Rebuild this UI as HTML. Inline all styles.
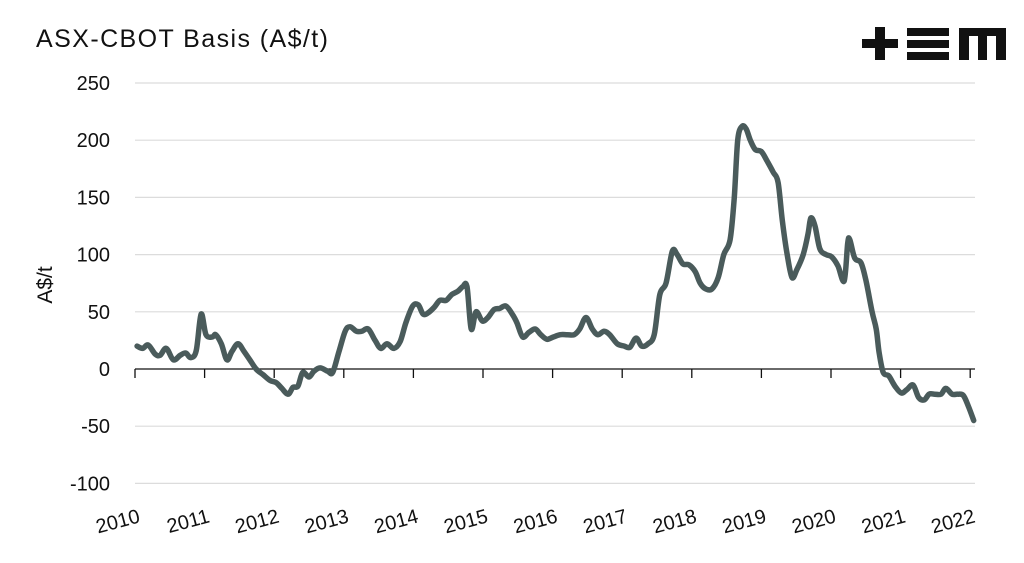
<!DOCTYPE html>
<html><head><meta charset="utf-8"><style>
body{margin:0;background:#fff;}
svg{display:block;font-family:"Liberation Sans",sans-serif;}
</style></head><body>
<svg id="chart" width="1024" height="563" viewBox="0 0 1024 563">
<text x="36" y="47" font-size="25" fill="#111" textLength="292" lengthAdjust="spacing">ASX-CBOT Basis (A$/t)</text>
<g fill="#111">
<rect x="862" y="39" width="36" height="9"/><rect x="875" y="27" width="10" height="33"/>
<rect x="907" y="28" width="42" height="8"/><rect x="907" y="40" width="42" height="8"/><rect x="907" y="52" width="42" height="8"/>
<path d="M959 28 H1006 V60 H996 V36 H987 V60 H978 V36 H969 V60 H959 Z"/>
</g>
<text transform="translate(52,285) rotate(-90)" text-anchor="middle" font-size="21" fill="#111">A$/t</text>
<g id="grid"></g><g id="yticks"></g><g id="xaxis"></g><g id="series"></g>
</svg>
<script>
const yTickValues=[250,200,150,100,50,0,-50,-100];
const xTickYears=[2010,2011,2012,2013,2014,2015,2016,2017,2018,2019,2020,2021,2022];
const dates=[2010.03,2010.11,2010.19,2010.29,2010.36,2010.45,2010.55,2010.65,2010.73,2010.80,2010.88,2010.95,2011.02,2011.11,2011.16,2011.24,2011.32,2011.39,2011.48,2011.57,2011.65,2011.74,2011.84,2011.94,2012.03,2012.11,2012.20,2012.27,2012.34,2012.41,2012.50,2012.57,2012.66,2012.77,2012.84,2012.93,2013.02,2013.09,2013.18,2013.26,2013.35,2013.45,2013.53,2013.62,2013.72,2013.81,2013.89,2013.99,2014.07,2014.14,2014.21,2014.30,2014.38,2014.47,2014.55,2014.64,2014.71,2014.77,2014.83,2014.90,2014.99,2015.07,2015.16,2015.24,2015.33,2015.42,2015.49,2015.57,2015.66,2015.75,2015.83,2015.92,2016.01,2016.11,2016.21,2016.31,2016.39,2016.48,2016.57,2016.65,2016.74,2016.82,2016.93,2017.03,2017.11,2017.20,2017.28,2017.37,2017.46,2017.54,2017.63,2017.72,2017.79,2017.87,2017.96,2018.05,2018.12,2018.20,2018.29,2018.38,2018.46,2018.55,2018.61,2018.66,2018.72,2018.78,2018.84,2018.91,2019.00,2019.08,2019.17,2019.24,2019.30,2019.37,2019.44,2019.51,2019.60,2019.67,2019.71,2019.77,2019.84,2019.93,2020.01,2020.10,2020.19,2020.24,2020.27,2020.34,2020.43,2020.50,2020.59,2020.65,2020.69,2020.75,2020.83,2020.92,2021.01,2021.09,2021.18,2021.26,2021.34,2021.41,2021.49,2021.58,2021.65,2021.74,2021.82,2021.90,2021.97,2022.05];
const basis=[20,18,21,13,12,18,8,12,14,10,16,48,30,28,30,22,8,15,22,15,8,0,-5,-10,-12,-17,-22,-16,-15,-3,-7,-2,1,-2,-3,15,33,37,33,33,35,25,18,22,18,24,40,55,56,48,49,54,60,60,65,68,72,72,35,50,42,45,52,53,55,48,40,28,32,35,30,26,28,30,30,30,35,45,35,30,33,30,22,20,19,27,20,22,30,65,75,103,100,92,91,85,75,70,70,80,100,113,150,200,212,210,200,192,190,182,172,163,130,100,80,87,100,118,132,125,105,100,98,90,77,110,113,97,93,78,50,35,15,-3,-6,-15,-21,-18,-14,-25,-27,-22,-22,-22,-17,-22,-22,-23,-32,-45];
const NS='http://www.w3.org/2000/svg';
const X=y=>135+(y-2010)*69.6;
const Y=v=>369-v*1.144;
function mk(t,a,p){const e=document.createElementNS(NS,t);for(const k in a)e.setAttribute(k,a[k]);p.appendChild(e);return e;}
const grid=document.getElementById('grid'),yt=document.getElementById('yticks'),xa=document.getElementById('xaxis'),se=document.getElementById('series');
yTickValues.forEach(v=>{
 if(v!==0){const g=mk('line',{x1:135,x2:975,y1:Y(v),y2:Y(v),stroke:'#dcdcdc','stroke-width':1.2},grid);
 
 }
 const t=mk('text',{x:110,y:Y(v)+7,'text-anchor':'end','font-size':20,fill:'#111'},yt);t.textContent=v;
 
 
});
const ax=mk('line',{x1:135,x2:975,y1:Y(0),y2:Y(0),stroke:'#111','stroke-width':1.3},xa);


xTickYears.forEach(yr=>{
 const tk=mk('line',{x1:X(yr),x2:X(yr),y1:Y(0),y2:Y(0)+9,stroke:'#111','stroke-width':1.3},xa);
 
 
 const t=mk('text',{transform:`translate(${X(yr)+6},${522}) rotate(-15)`,'text-anchor':'end','font-size':20,fill:'#111'},xa);t.textContent=yr;
 
 
});
const pts=dates.map((y,i)=>[X(y),Y(basis[i])]);
let d='M'+pts[0][0].toFixed(1)+' '+pts[0][1].toFixed(1);
for(let i=0;i<pts.length-1;i++){
 const p0=pts[Math.max(0,i-1)],p1=pts[i],p2=pts[i+1],p3=pts[Math.min(pts.length-1,i+2)];
 const c1=[p1[0]+(p2[0]-p0[0])/6,p1[1]+(p2[1]-p0[1])/6],c2=[p2[0]-(p3[0]-p1[0])/6,p2[1]-(p3[1]-p1[1])/6];
 d+=` C${c1[0].toFixed(1)} ${c1[1].toFixed(1)} ${c2[0].toFixed(1)} ${c2[1].toFixed(1)} ${p2[0].toFixed(1)} ${p2[1].toFixed(1)}`;
}
const p=mk('path',{d:d,fill:'none',stroke:'#4a5b5b','stroke-width':5.5,'stroke-linejoin':'round','stroke-linecap':'round'},se);


</script>
</body></html>
